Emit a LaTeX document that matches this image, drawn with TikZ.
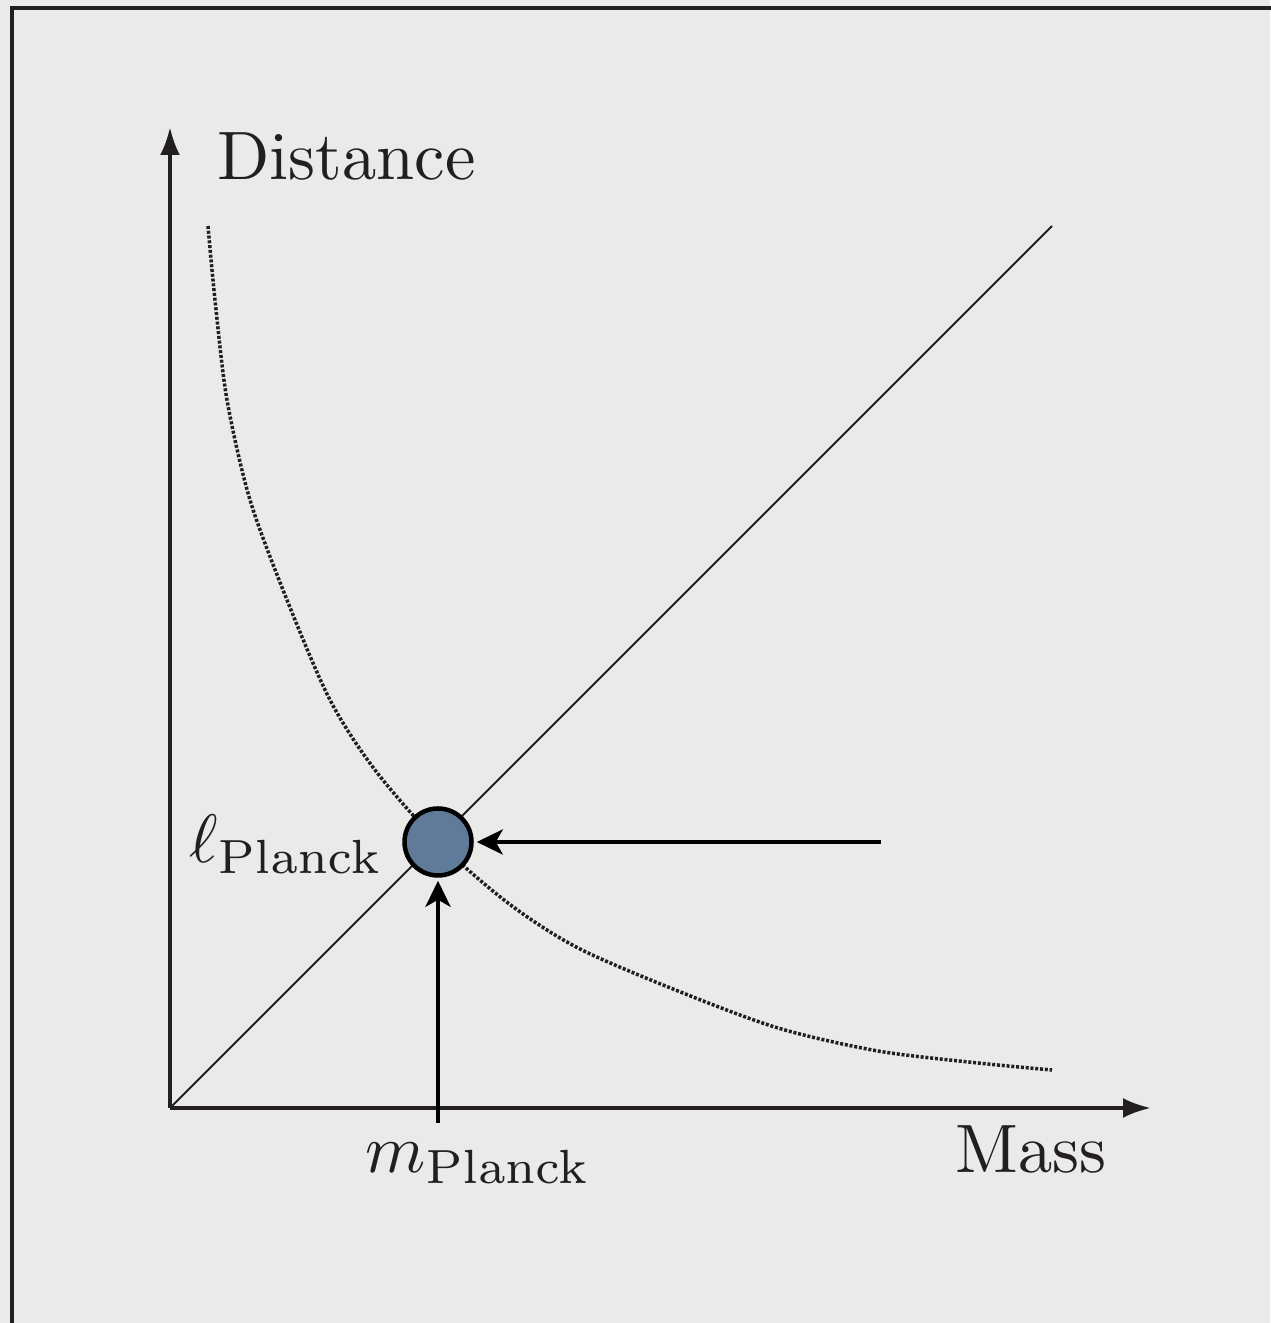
\documentclass[tikz,border=0pt]{standalone}
\usepackage{xcolor}
\usepackage{tikz}
\usetikzlibrary{arrows.meta}
\usepackage{amsmath, amssymb}

\definecolor{bgc}{RGB}{234,234,234}
\definecolor{ink}{RGB}{35,31,32}
\definecolor{dotblue}{RGB}{96,122,154}

\begin{document}
\begin{tikzpicture}[
  axis/.style={line width=0.04cm, ink, -{Latex[length=0.28cm,width=0.2cm]}},
  inarrow/.style={line width=0.04cm, black, -{Stealth[length=0.26cm,width=0.25cm,inset=0.07cm]}, shorten >=0.03cm},
  lbl/.style={inner sep=0pt, text=ink, scale=1.95, transform shape},
]

\useasboundingbox (0,0) rectangle (12.7,13.23);
\fill[bgc] (0,0) rectangle (12.7,13.23);
\draw[line width=0.04cm, ink] (0.12,-0.5) |- (13.2,13.15);   % frame

\coordinate (O) at (1.70,2.15);
\coordinate (ytop) at (1.70,11.96);
\coordinate (xend) at (11.51,2.15);
\coordinate (dtop) at (10.52,10.97);

\draw[axis] (O) -- (ytop);
\draw[axis] (O) -- (xend);
\draw[line width=0.02cm, ink] (O) -- (dtop);   % diagonal

% curve
\draw[ink, line width=0.035cm, dash pattern=on 0.03cm off 0.018cm]
  plot[smooth] coordinates {(2.08,10.97) (2.15,10.23) (2.27,9.23) (2.50,8.23)
  (2.87,7.23) (3.30,6.23) (3.75,5.53) (4.38,4.81) (5.08,4.20) (5.78,3.75)
  (6.78,3.32) (7.78,2.95) (8.78,2.72) (9.78,2.60) (10.52,2.53)};

\node[circle, draw=black, line width=0.045cm, fill=dotblue, minimum size=0.67cm, inner sep=0pt] (pl) at (4.38,4.81) {};

\coordinate (hstart) at (8.81,4.81);
\coordinate (vstart) at (4.38,2.00);
\draw[inarrow] (hstart) -- (pl);
\draw[inarrow] (vstart) -- (pl);

\node[lbl, anchor=base west] (dist) at (2.16,11.43) {Distance};
\node[lbl, anchor=base west] (mass) at (9.54,1.50) {Mass};
\node[lbl, anchor=base west] (lpl) at (1.88,4.60) {$\ell_{\mathrm{Planck}}$};
\node[lbl, anchor=base west] (mpl) at (3.64,1.50) {$m_{\mathrm{Planck}}$};

\end{tikzpicture}
\end{document}
